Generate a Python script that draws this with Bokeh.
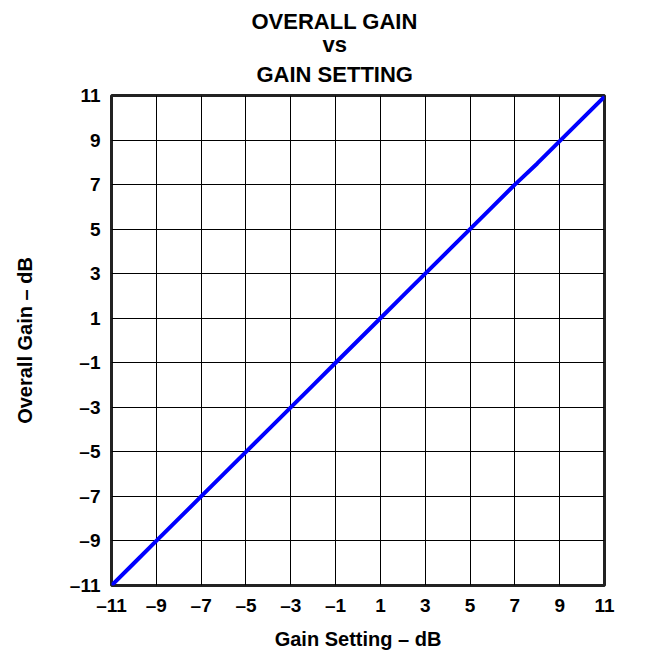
from bokeh.plotting import figure
from bokeh.models import FixedTicker, Title, Range1d
from bokeh.embed import file_html
from bokeh.resources import INLINE

# Data
gain_setting = [-11, -10, -9, -8, -7, -6, -5, -4, -3, -2, -1, 0, 1, 2, 3, 4, 5, 6, 7, 8, 9, 10, 11]
overall_gain = [-11.0, -10.0, -9.0, -8.0, -7.0, -6.0, -5.0, -4.0, -3.0, -2.0, -1.0, 0.0,
                1.0, 2.0, 3.0, 4.0, 5.0, 6.0, 7.0, 7.95, 8.95, 9.95, 10.95]
tick_values = [-11, -9, -7, -5, -3, -1, 1, 3, 5, 7, 9, 11]
tick_labels = ["–11", "–9", "–7", "–5", "–3", "–1", "1", "3", "5", "7", "9", "11"]
title_lines = ["OVERALL GAIN", "vs", "GAIN SETTING"]
x_label = "Gain Setting – dB"
y_label = "Overall Gain – dB"

FONT = "Liberation Sans"
W, H = 660, 652
LEFT, RIGHT, TOP, BOTTOM = 111, 56, 95, 67

p = figure(width=W, height=H, output_backend="svg", toolbar_location=None,
           x_range=Range1d(-11, 11), y_range=Range1d(-11, 11),
           min_border_left=LEFT, min_border_right=RIGHT, min_border_top=TOP, min_border_bottom=BOTTOM)
p.title.visible = False

# title lines stacked above the frame (first added = closest to frame)
title_offsets = [140, 211, 145]     # left offset from frame edge for each line
title_standoffs = [1, -10, 17]
for t, off, so in reversed(list(zip(title_lines, title_offsets, title_standoffs))):
    p.add_layout(Title(text=t, align="left", offset=off, standoff=so,
                       text_font=FONT, text_font_size="22px", text_font_style="bold",
                       text_color="black"), "above")

p.line(gain_setting, overall_gain, line_color="#0000FF", line_width=4)

overrides = {v: l for v, l in zip(tick_values, tick_labels)}
for ax in (p.xaxis, p.yaxis):
    ax.ticker = FixedTicker(ticks=tick_values)
    ax.major_label_overrides = overrides
    ax.major_tick_line_color = None
    ax.minor_tick_line_color = None
    ax.major_tick_out = 0
    ax.major_tick_in = 0
    ax.minor_tick_out = 0
    ax.axis_line_color = None
    ax.major_label_text_font = FONT
    ax.major_label_text_font_size = "19px"
    ax.major_label_text_font_style = "bold"
    ax.major_label_text_color = "black"
    ax.axis_label_text_font = FONT
    ax.axis_label_text_font_size = "20px"
    ax.axis_label_text_font_style = "bold"
    ax.axis_label_text_color = "black"

p.xaxis.axis_label = x_label
p.yaxis.axis_label = y_label
p.xaxis.major_label_standoff = 9
p.yaxis.major_label_standoff = 11
p.xaxis.axis_label_standoff = 9
p.yaxis.axis_label_standoff = 31

p.xgrid.ticker = FixedTicker(ticks=tick_values)
p.ygrid.ticker = FixedTicker(ticks=tick_values)
p.grid.grid_line_color = "black"
p.grid.grid_line_width = 1
p.grid.grid_line_alpha = 1

p.outline_line_color = "#222222"
p.outline_line_width = 3
p.background_fill_color = "white"
p.border_fill_color = "white"

open("out.html", "w").write(file_html(p, INLINE))
